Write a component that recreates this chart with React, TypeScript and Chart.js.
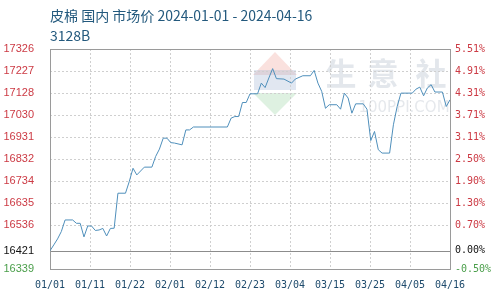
import React, { useEffect, useRef } from "react";
import { Chart, registerables } from "chart.js";

Chart.register(...registerables);

// Day index since 2024-01-01 and cotton lint price (yuan/ton)
const dayIndex = [
  0, 1, 2, 3, 4, 6, 7, 8, 9, 10, 11, 12, 13, 14, 15, 16, 17, 18, 20, 21, 22, 23, 25, 27, 28, 29, 30, 31, 32, 33, 35, 36, 37, 38,
  47, 48, 49, 50, 51, 52, 53, 55, 56, 57, 58, 59, 60, 62, 64, 65, 67, 69, 70, 71, 72, 73, 74, 76, 77, 78, 79, 80, 81, 83, 84,
  85, 86, 87, 88, 90, 91, 92, 93, 96, 97, 98, 99, 100, 101, 102, 104, 105, 106,
];
const prices = [
  16421, 16447, 16474, 16507, 16559, 16559, 16544, 16544, 16483, 16532, 16532, 16512, 16514, 16521, 16487, 16521, 16522, 16679,
  16679, 16731, 16791, 16761, 16796, 16796, 16844, 16877, 16926, 16926, 16906, 16904, 16896, 16963, 16963, 16976,
  16976, 17016, 17023, 17023, 17086, 17086, 17125, 17125, 17173, 17153, 17196, 17238, 17193, 17191, 17173, 17191, 17206, 17206,
  17230, 17173, 17136, 17060, 17076, 17076, 17056, 17128, 17106, 17038, 17080, 17080, 17056,
  16915, 16956, 16874, 16859, 16859, 16986, 17068, 17128, 17128, 17146, 17155, 17116, 17151, 17166, 17133, 17133, 17068, 17098,
];

const xTickLabels = ["01/01", "01/11", "01/22", "02/01", "02/12", "02/23", "03/04", "03/15", "03/25", "04/05", "04/16"];
const totalDays = 106;

const basePrice = 16421;
const yTickValues = [16339, 16421, 16536, 16634.75, 16733.5, 16832.25, 16931, 17029.75, 17128.5, 17227.25, 17326];
const yTickLabels = ["16339", "16421", "16536", "16635", "16734", "16832", "16931", "17030", "17128", "17227", "17326"];
const pctTickLabels = ["-0.50%", "0.00%", "0.70%", "1.30%", "1.90%", "2.50%", "3.11%", "3.71%", "4.31%", "4.91%", "5.51%"];

const titleText = "皮棉 国内 市场价 2024-01-01 - 2024-04-16";
const subtitleText = "3128B";

const RED = "#cc3a44";
const GREEN = "#4a9e4a";
const TICK_BLACK = "#111111";

function tickColor(idx: number) {
  if (idx === 0) return GREEN;
  if (idx === 1) return TICK_BLACK;
  return RED;
}

const decorPlugin = {
  id: "decor",
  beforeDatasetsDraw(chart: any) {
    const { ctx, chartArea } = chart;
    const { left, right, top, bottom } = chartArea;
    const xs = chart.scales.x;
    const ys = chart.scales.y;
    ctx.save();
    // watermark logo
    ctx.fillStyle = "rgba(240,170,160,0.35)";
    ctx.beginPath();
    ctx.moveTo(275, 52);
    ctx.lineTo(253, 75);
    ctx.lineTo(297, 75);
    ctx.closePath();
    ctx.fill();
    ctx.fillStyle = "rgba(170,185,215,0.35)";
    ctx.fillRect(254, 70, 42, 20);
    ctx.fillStyle = "rgba(160,215,170,0.35)";
    ctx.beginPath();
    ctx.moveTo(253, 93);
    ctx.lineTo(297, 93);
    ctx.lineTo(275, 115);
    ctx.closePath();
    ctx.fill();
    ctx.fillStyle = "rgba(175,185,200,0.35)";
    ctx.font = "bold 31px 'Noto Sans CJK SC'";
    ctx.textBaseline = "middle";
    ctx.textAlign = "center";
    ctx.fillText("生", 341, 73);
    ctx.fillText("意", 383, 73);
    ctx.fillText("社", 431, 73);
    ctx.font = "15px 'DejaVu Sans'";
    ctx.fillStyle = "rgba(180,188,200,0.35)";
    ctx.fillText("100PPI.COM", 404, 108);

    // grid
    ctx.lineWidth = 1;
    ctx.strokeStyle = "#cfcfcf";
    ctx.setLineDash([2, 2]);
    xs.ticks.forEach((t: any) => {
      const px = Math.round(xs.getPixelForValue(t.value)) + 0.5;
      ctx.beginPath();
      ctx.moveTo(px, top);
      ctx.lineTo(px, bottom);
      ctx.stroke();
    });
    yTickValues.forEach((v, i) => {
      if (i === 1) return;
      const py = Math.round(ys.getPixelForValue(v)) + 0.5;
      ctx.beginPath();
      ctx.moveTo(left, py);
      ctx.lineTo(right, py);
      ctx.stroke();
    });
    ctx.setLineDash([]);
    // base line
    ctx.strokeStyle = "#8c8c8c";
    const by = Math.round(ys.getPixelForValue(basePrice)) + 0.5;
    ctx.beginPath();
    ctx.moveTo(left, by);
    ctx.lineTo(right, by);
    ctx.stroke();
    // frame
    ctx.strokeStyle = "#9a9a9a";
    ctx.strokeRect(Math.round(left) + 0.5, Math.round(top) + 0.5, Math.round(right - left), Math.round(bottom - top));
    ctx.restore();
  },
  afterDraw(chart: any) {
    const { ctx } = chart;
    ctx.save();
    ctx.fillStyle = "#23597d";
    ctx.font = "14px 'Noto Sans CJK SC'";
    ctx.textBaseline = "middle";
    ctx.textAlign = "left";
    ctx.fillText(titleText, 50, 16);
    ctx.fillText(subtitleText, 50, 36);
    ctx.restore();
  },
};

export default function App() {
  const ref = useRef<HTMLCanvasElement | null>(null);
  useEffect(() => {
    document.body.style.margin = "0";
    const canvas = ref.current!;
    const points = dayIndex.map((d, i) => ({ x: d, y: prices[i] }));
    const chart = new Chart(canvas, {
      type: "line",
      data: {
        datasets: [
          {
            data: points,
            borderColor: "#4f8fbb",
            borderWidth: 1,
            pointRadius: 0,
            tension: 0,
            fill: false,
            yAxisID: "y",
          },
        ],
      },
      options: {
        animation: false,
        responsive: false,
        devicePixelRatio: 1,
        layout: { padding: { top: 49, left: 0, right: 0, bottom: 0 } },
        plugins: { legend: { display: false }, tooltip: { enabled: false }, title: { display: false } },
        scales: {
          x: {
            type: "linear",
            min: 0,
            max: totalDays,
            grid: { display: false, drawTicks: false },
            border: { display: false },
            afterBuildTicks: (scale: any) => {
              scale.ticks = xTickLabels.map((_, i) => ({ value: (totalDays / (xTickLabels.length - 1)) * i }));
            },
            afterFit: (scale: any) => {
              scale.height = 31;
            },
            ticks: {
              autoSkip: false,
              maxRotation: 0,
              padding: 10,
              color: "#1d4a6c",
              font: { family: "'DejaVu Sans Mono'", size: 10 },
              callback: (_v: any, i: number) => xTickLabels[i],
            },
          },
          y: {
            type: "linear",
            position: "left",
            min: yTickValues[0],
            max: yTickValues[yTickValues.length - 1],
            grid: { display: false, drawTicks: false },
            border: { display: false },
            afterBuildTicks: (scale: any) => {
              scale.ticks = yTickValues.map((v) => ({ value: v }));
            },
            afterFit: (scale: any) => {
              scale.width = 50;
            },
            ticks: {
              autoSkip: false,
              padding: 16,
              color: (c: any) => tickColor(c.index),
              font: { family: "'Liberation Sans'", size: 11 },
              callback: (_v: any, i: number) => yTickLabels[i],
            },
          },
          y1: {
            type: "linear",
            position: "right",
            min: yTickValues[0],
            max: yTickValues[yTickValues.length - 1],
            grid: { display: false, drawTicks: false },
            border: { display: false },
            afterBuildTicks: (scale: any) => {
              scale.ticks = yTickValues.map((v) => ({ value: v }));
            },
            afterFit: (scale: any) => {
              scale.width = 50;
            },
            ticks: {
              autoSkip: false,
              padding: 5,
              color: (c: any) => tickColor(c.index),
              font: { family: "'DejaVu Sans Mono'", size: 10 },
              callback: (_v: any, i: number) => pctTickLabels[i],
            },
          },
        },
      },
      plugins: [decorPlugin],
    } as any);
    return () => chart.destroy();
  }, []);
  return (
    <div style={{ position: "absolute", left: 0, top: 0, width: 500, height: 300, background: "#fff" }}>
      <canvas ref={ref} width={500} height={300} style={{ width: 500, height: 300 }} />
    </div>
  );
}
